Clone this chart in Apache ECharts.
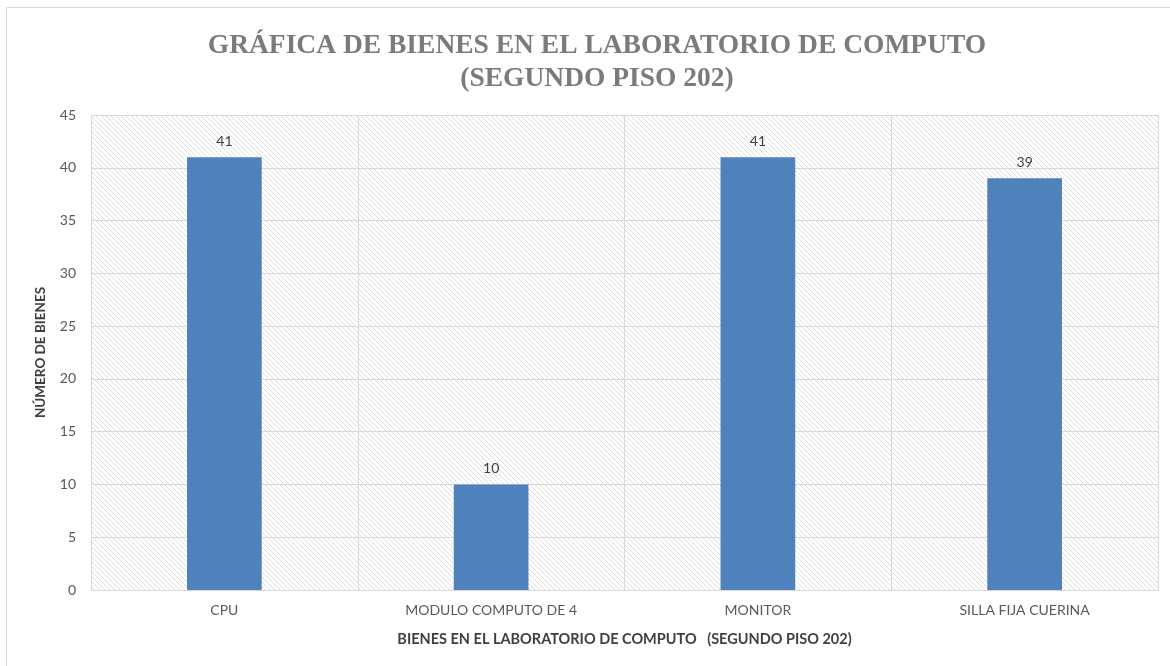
<!DOCTYPE html>
<html>
<head>
<meta charset="utf-8">
<script src="https://cdn.jsdelivr.net/npm/echarts@6/dist/echarts.min.js"></script>
<style>
  html, body { margin: 0; padding: 0; background: #fff; }
  #main { width: 1170px; height: 666px; }
</style>
</head>
<body>
<div id="main"></div>
<script>
const categories = ['CPU', 'MODULO COMPUTO DE 4', 'MONITOR', 'SILLA FIJA CUERINA']
const cantidades = [41, 10, 41, 39]
const yTicks = { min: 0, max: 45, interval: 5 }

// diagonal hatch for the plot area
const makeHatch = () => {
    const s = 5
    const c = document.createElement('canvas')
    c.width = s
    c.height = s
    const ctx = c.getContext('2d')
    ctx.fillStyle = '#ffffff'
    ctx.fillRect(0, 0, s, s)
    ctx.strokeStyle = '#dcdcdc'
    ctx.lineWidth = 1
    ctx.beginPath()
    ctx.moveTo(-1, -1); ctx.lineTo(s + 1, s + 1)
    ctx.moveTo(-1, s - 1); ctx.lineTo(1, s + 1)
    ctx.moveTo(s - 1, -1); ctx.lineTo(s + 1, 1)
    ctx.stroke()
    return c
}

const chart = echarts.init(document.getElementById('main'))
const font = 'Lato, "Open Sans", sans-serif'

const option = {
    backgroundColor: '#ffffff',
    animation: false,
    title: {
        text: 'GRÁFICA DE BIENES EN EL LABORATORIO DE COMPUTO\n(SEGUNDO PISO 202)',
        left: 592,
        top: 24,
        textAlign: 'center',
        textStyle: {
            fontFamily: '"Liberation Serif", "DejaVu Serif", serif',
            fontWeight: 'bold',
            fontSize: 27.5,
            lineHeight: 33,
            color: '#7b7b7b'
        }
    },
    graphic: [
        {
            type: 'rect',
            shape: { x: 6.5, y: 7.5, width: 1200, height: 700 },
            style: { fill: 'none', stroke: '#d9d9d9', lineWidth: 1 },
            silent: true
        }
    ],
    grid: {
        left: 91,
        right: 12,
        top: 115,
        bottom: 76,
        show: true,
        borderWidth: 0,
        backgroundColor: { image: makeHatch(), repeat: 'repeat' }
    },
    xAxis: {
        type: 'category',
        data: categories,
        name: 'BIENES EN EL LABORATORIO DE COMPUTO   (SEGUNDO PISO 202)',
        nameLocation: 'middle',
        nameGap: 42,
        nameTextStyle: { fontFamily: font, fontWeight: 'bold', fontSize: 14.5, color: '#404040' },
        axisLine: { show: true, lineStyle: { color: '#d9d9d9', width: 1 } },
        axisTick: { show: false },
        axisLabel: { margin: 13, fontFamily: font, fontSize: 14, color: '#595959' },
        splitLine: { show: true, lineStyle: { color: '#d9d9d9', width: 1 } }
    },
    yAxis: {
        type: 'value',
        min: yTicks.min,
        max: yTicks.max,
        interval: yTicks.interval,
        name: 'NÚMERO DE BIENES',
        nameLocation: 'middle',
        nameGap: 43,
        nameTextStyle: { fontFamily: font, fontWeight: 'bold', fontSize: 13.5, color: '#404040' },
        axisLine: { show: false },
        axisTick: { show: false },
        axisLabel: { margin: 15, fontFamily: font, fontSize: 14, color: '#595959' },
        splitLine: { show: true, lineStyle: { color: '#d9d9d9', width: 1 } }
    },
    series: [
        {
            type: 'bar',
            data: cantidades,
            barCategoryGap: '72%',
            itemStyle: { color: '#4f81bd' },
            label: {
                show: true,
                position: 'top',
                distance: 9,
                fontFamily: font,
                fontSize: 14,
                color: '#404040'
            }
        }
    ]
}

chart.setOption(option)
</script>
</body>
</html>
